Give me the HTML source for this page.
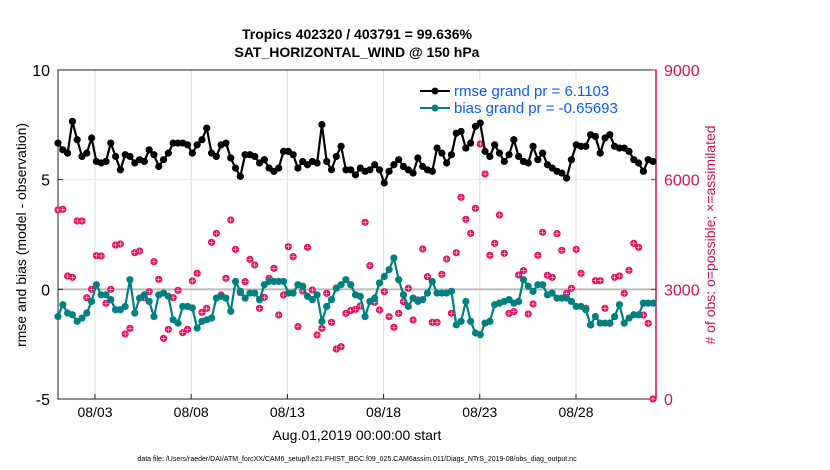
<!DOCTYPE html>
<html><head><meta charset="utf-8"><style>
body{margin:0;background:#fff;font-family:"Liberation Sans",sans-serif}
svg{display:block}
</style></head><body>
<svg id="chart" width="830" height="470">
<rect width="830" height="470" fill="#fff"/>
<text x="357" y="39" text-anchor="middle" font-weight="bold" font-size="14">Tropics 402320 / 403791 = 99.636%</text>
<text x="357" y="57" text-anchor="middle" font-weight="bold" font-size="14">SAT_HORIZONTAL_WIND @ 150 hPa</text>
<g id="grid"></g>
<g id="axes"></g>
<g id="series"></g>
<g>
<rect x="416" y="80" width="236" height="36" fill="#fff"/>
<line x1="420" y1="91" x2="450" y2="91" stroke="#000" stroke-width="2"/><circle cx="435" cy="91" r="3.5" fill="#000"/>
<text x="454" y="96" font-size="15" fill="#0a5cf5">rmse grand pr = 6.1103</text>
<line x1="420" y1="108" x2="450" y2="108" stroke="#008080" stroke-width="2"/><circle cx="435" cy="108" r="3.5" fill="#008080"/>
<text x="454" y="113" font-size="15" fill="#0a5cf5">bias grand pr = -0.65693</text>
</g>
<text transform="translate(26,235) rotate(-90)" text-anchor="middle" font-size="14">rmse and bias (model - observation)</text>
<text transform="translate(715,235) rotate(-90)" text-anchor="middle" font-size="14" fill="#d0105a"># of obs: o=possible; ×=assimilated</text>
<text x="357" y="440" text-anchor="middle" font-size="14">Aug.01,2019 00:00:00 start</text>
<text x="357" y="461" text-anchor="middle" font-size="7">data file: /Users/raeder/DAI/ATM_forcXX/CAM6_setup/f.e21.FHIST_BGC.f09_025.CAM6assim.011/Diags_NTrS_2019-08/obs_diag_output.nc</text>
</svg>
<script>
const rmse=[6.67,6.36,6.21,7.66,6.82,6.06,6.21,6.9,5.83,5.76,5.83,6.67,6.06,5.45,6.14,6.06,5.76,5.91,5.83,6.36,6.14,5.6,5.91,6.21,6.67,6.67,6.67,6.59,6.21,6.59,6.82,7.35,6.21,6.06,6.59,6.67,5.99,5.53,5.15,6.14,6.14,
6.06,5.76,5.91,5.53,5.38,5.53,6.29,6.29,6.14,5.53,5.83,5.68,5.83,5.76,7.51,5.83,5.45,6.06,6.52,5.45,5.45,5.22,5.53,5.38,5.45,5.68,5.45,4.85,5.38,5.68,5.91,5.6,5.45,5.3,5.99,5.6,5.45,5.38,6.44,6.21,5.76,6.14,7.12,
7.2,6.44,6.67,7.43,7.58,6.29,6.06,6.59,6.21,5.83,6.14,6.82,6.06,5.83,5.76,6.52,5.91,6.21,5.68,5.53,5.38,5.3,5.07,5.91,6.59,6.52,6.52,7.05,6.97,6.21,6.9,7.05,6.52,6.44,6.44,6.29,5.91,5.76,5.38,5.91,5.83];
const bias=[-1.24,-0.70,-1.08,-1.16,-1.46,-1.31,-1.08,-0.55,0.21,-0.25,-0.25,-0.47,-0.93,-0.93,-0.78,0.44,-1.08,-0.40,-0.25,-0.55,-1.24,-0.25,-0.17,-0.32,-1.39,-1.54,-0.78,-0.78,-0.85,-1.77,-1.46,-1.39,-1.31,-0.40,-0.32,-0.40,-1.0,0.36,-0.09,-0.40,-0.17,
-0.17,-0.47,0.21,0.36,0.36,0.36,0.36,-0.17,-0.17,0.21,0.14,-0.32,-0.47,-0.25,-1.46,-0.78,-0.47,0.06,0.21,0.44,0.21,-0.25,-0.32,-1.24,-0.55,-0.40,0.29,0.59,0.9,1.43,0.44,-0.25,-0.78,-0.40,-0.55,-0.47,-0.17,0.36,-0.17,-0.17,-0.17,-0.09,-1.62,
-1.46,-0.55,-1.46,-1.99,-2.07,-1.54,-1.46,-0.70,-0.63,-0.55,-0.47,-0.63,-0.55,0.44,0.14,-0.09,0.21,0.21,-0.25,-0.17,-0.40,-0.40,-0.40,-0.55,-0.78,-0.78,-0.93,-1.62,-1.24,-1.54,-1.54,-1.54,-1.24,-0.70,-1.54,-1.31,-1.16,-1.16,-0.63,-0.63,-0.63];
const obs=[5171,5189,3365,3329,4870,4870,2772,3000,3921,3912,2617,3000,4213,4240,1778,1933,4003,4049,2772,2936,3757,3274,1659,1906,2772,2973,1814,1906,3229,3438,2371,2481,4286,4532,2845,3301,4897,4094,2909,3210,
3820,3666,2481,2781,3301,3574,2298,2845,4167,3894,1979,2955,4149,2982,1751,1933,2891,2097,1368,1431,2344,2417,2453,2545,4833,3648,2645,2435,2936,2252,1961,2344,2663,3028,2161,2709,4103,3347,2097,2097,3411,3830,2344,4003,
5517,4916,4532,5216,6977,6156,3930,4258,5034,3985,2344,2390,3392,3511,2326,2599,3930,4560,3383,3329,4523,4067,2891,3028,4094,3438,2481,2024,3237,3237,2481,2070,3329,3365,2891,3520,4258,4149,2298,2070,0];
const leftTicks=[-5,0,5,10];
const rightTicks=[0,3000,6000,9000];
const xTickLabels=["08/03","08/08","08/13","08/18","08/23","08/28"];
const xTickDays=[2,7,12,17,22,27];
const X0=58,X1=656,Y0=70,Y1=399;
const NS='http://www.w3.org/2000/svg';
const xDay=d=>56.5+d*19.24;
const xi=i=>58+i*(653-58)/(rmse.length-1);
const yL=v=>Y1-(v+5)/15*(Y1-Y0);
const yR=v=>Y1-v/9000*(Y1-Y0);
function mk(t,a,p){const e=document.createElementNS(NS,t);for(const k in a)e.setAttribute(k,a[k]);p.appendChild(e);return e;}
const grid=document.getElementById('grid'),axes=document.getElementById('axes'),ser=document.getElementById('series');
mk('rect',{x:X0,y:Y0,width:X1-X0,height:Y1-Y0,fill:'#fff'},grid);
xTickDays.forEach((d,k)=>{
 const g=mk('line',{x1:xDay(d),x2:xDay(d),y1:Y0,y2:Y1,stroke:'#dcdcdc','stroke-width':1},grid);
 
 
 mk('line',{x1:xDay(d),x2:xDay(d),y1:Y1,y2:Y1-5,stroke:'#222'},axes);
 const t=mk('text',{x:xDay(d),y:Y1+18,'text-anchor':'middle','font-size':14},axes);t.textContent=xTickLabels[k];
 
 
});
mk('line',{x1:X0,x2:X1,y1:yR(6000),y2:yR(6000),stroke:'#f5dce6'},grid);
mk('line',{x1:X0,x2:X1,y1:yL(0),y2:yL(0),stroke:'#bbb','stroke-width':2},grid);
mk('rect',{x:X0,y:Y0,width:X1-X0,height:Y1-Y0,fill:'none',stroke:'#222'},axes);
mk('line',{x1:X1,x2:X1,y1:Y0,y2:Y1,stroke:'#d0105a','stroke-width':1.5},axes);
leftTicks.forEach(v=>{
 mk('line',{x1:X0,x2:X0+5,y1:yL(v),y2:yL(v),stroke:'#222'},axes);
 const t=mk('text',{x:X0-8,y:yL(v)+6,'text-anchor':'end','font-size':16},axes);t.textContent=v;
 
 
});
rightTicks.forEach(v=>{
 mk('line',{x1:X1-5,x2:X1,y1:yR(v),y2:yR(v),stroke:'#d0105a'},axes);
 const t=mk('text',{x:X1+8,y:yR(v)+6,'font-size':16,fill:'#d0105a'},axes);t.textContent=v;
 
 
});
obs.forEach((v,i)=>{
 const g=mk('g',{},ser);
 
 
 const cx=xi(i),cy=yR(v);
 mk('circle',{cx,cy,r:3.6,fill:'#e0115f'},g);
 mk('path',{d:`M${cx-2.5} ${cy}H${cx+2.5}M${cx} ${cy-2.5}V${cy+2.5}`,stroke:'#fff','stroke-width':0.5},g);
});
function line(arr,col,name){
 const p=mk('polyline',{points:arr.map((v,i)=>xi(i)+','+yL(v)).join(' '),fill:'none',stroke:col,'stroke-width':2.2},ser);
 
 
 arr.forEach((v,i)=>{
  const c=mk('circle',{cx:xi(i),cy:yL(v),r:3.6,fill:col},ser);
  
  
 });
}
line(bias,'#008080','bias');
line(rmse,'#000','rmse');
</script>
</body></html>
